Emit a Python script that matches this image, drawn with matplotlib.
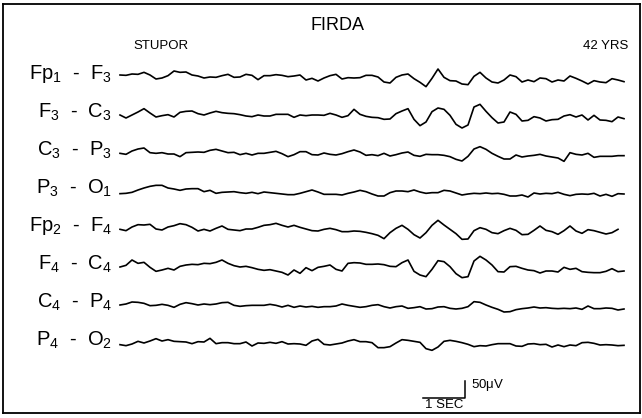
import numpy as np
import matplotlib
matplotlib.use("Agg")
import matplotlib.pyplot as plt

plt.rcParams['font.family'] = ['Liberation Sans', 'DejaVu Sans']
plt.rcParams['mathtext.fontset'] = 'custom'
plt.rcParams['mathtext.rm'] = 'Liberation Sans'
plt.rcParams['mathtext.default'] = 'regular'

# samples every 1/7 s, amplitude in microvolts
fs = 7
channels = [r'Fp$_1$  -  F$_3$', r'F$_3$  -  C$_3$', r'C$_3$  -  P$_3$', r'P$_3$  -  O$_1$',
            r'Fp$_2$  -  F$_4$', r'F$_4$  -  C$_4$', r'C$_4$  -  P$_4$', r'P$_4$  -  O$_2$']

fp1_f3 = [9, 8, 12, 11, 17, 9, -3, 0, 7, 21,
          17, 18, 9, 6, 0, 3, 2, 7, 11, 2,
          3, 11, 8, -5, 7, 7, 10, 8, 4, 6,
          9, -6, -1, -9, 0, 7, 11, -3, 1, 0,
          1, 8, 8, 3, -12, -15, 2, 9, 12, -2,
          -13, -26, -1, 27, 2, -8, -9, -18, -20, 5,
          17, 0, -12, -15, -6, 9, 4, -12, -6, -11,
          0, -2, -12, -6, -9, 6, -1, -9, -18, -8,
          -12, -14, -2, -6, -11]
f3_c3 = [3, -6, 3, 12, 22, 9, -3, 1, 4, -3,
         11, 14, 15, 7, 3, 9, 14, 10, 8, 7,
         4, 0, -2, 3, 0, 0, 5, 5, 5, -4,
         3, 1, 3, 3, 2, 8, 3, -4, 1, 20,
         5, -1, -4, -5, -10, -9, 7, 15, 22, -10,
         -29, -18, 13, 24, 20, 2, -25, -36, -27, 27,
         35, 14, -5, -21, -18, 12, 5, -15, -13, -2,
         -6, -15, -11, -10, 0, 4, -3, 3, -12, 2,
         -12, -13, -17, -3, -8]
c3_p3 = [2, -1, 9, 15, 18, 4, 2, 4, 0, 0,
         -8, 4, 5, 6, 5, 11, 14, 9, 4, 5,
         -2, 2, -3, 2, 2, 5, 8, 1, -8, -2,
         7, 7, -2, -3, 3, -1, -3, 1, 7, 12,
         6, -4, -2, -5, 2, -6, -2, 3, 6, -4,
         -7, -1, -2, -2, -4, -8, -16, -21, -7, 15,
         22, 14, 2, -7, -15, -15, -3, -9, -6, -4,
         -1, -6, -9, -12, -22, 4, -1, -3, 2, -10,
         -7, -7, -7, -5, -5]
p3_o1 = [-5, -4, -1, 6, 12, 17, 20, 20, 12, 9,
         5, 9, 10, 10, 1, 5, -4, -1, 0, 1,
         -2, -4, -1, -5, 0, -2, -4, -6, -8, -8,
         -4, 1, 6, 0, -7, -7, -7, -9, -4, 0,
         5, 1, -6, -12, -12, -2, 3, 3, 1, 6,
         0, -4, -2, -2, 5, 3, -3, -9, -6, -4,
         -5, -3, -5, -4, -7, -12, -12, -9, -15, -3,
         -6, -4, -5, -1, -7, -11, -7, -6, -7, -4,
         -12, -7, -13, -5, -6]
fp2_f4 = [2, -2, 9, 16, 15, 17, 3, 0, 9, 13,
          19, 16, 8, -3, 2, -3, 5, 12, 2, 0,
          -2, 3, 3, 8, 14, 16, 20, 14, 9, 14,
          8, 3, -2, -3, 2, 5, 1, -5, -5, -3,
          -4, -7, -11, -16, -26, -8, 5, 14, 2, -14,
          -24, -8, 14, 29, 15, 2, -11, -28, -27, -2,
          7, 2, -8, -11, -2, 5, -1, -14, -13, -1,
          12, -1, -5, -13, -2, 12, -3, -10, 1, -2,
          -7, -12, -8, 2, np.nan]
f4_c4 = [3, 8, 24, 14, 17, 2, -10, -6, -1, -6,
         5, 9, 11, 10, 14, 13, 17, 24, 14, 7,
         3, 5, 1, -4, -7, -5, -9, -13, -21, -6,
         -16, 1, -8, 2, 5, 9, -4, -9, 14, 16,
         15, 11, 11, 12, 10, 5, 4, 16, 24, -10,
         -21, -26, -4, 22, 19, 4, -17, -29, -26, 21,
         35, 24, 9, -11, -12, 4, 5, -1, -6, -8,
         -15, -9, -9, -12, 2, -4, -1, -11, -13, -14,
         -14, -10, -2, -11, -9]
c4_p4 = [3, 6, 12, 11, 8, 1, 2, 5, 2, -4,
         5, 10, 7, 3, 6, 4, 6, 10, 11, 2,
         -1, 1, 2, 2, 2, 5, 2, -3, 2, -4,
         0, -3, -1, -4, -2, -2, 0, 6, 2, -1,
         -4, -2, 2, 4, -2, -6, -2, 0, -7, -5,
         -2, -9, -8, -3, -2, -7, -9, -7, -2, 13,
         11, 3, -4, -10, -18, -17, -11, -8, -6, -3,
         -6, -5, -7, -8, -7, -8, -6, -10, 0, -8,
         -8, -6, -7, -12, -9]
p4_o2 = [-2, -5, 0, 8, 3, 9, 16, 9, 13, 8,
         7, 6, 1, 7, 6, 17, 1, 4, 4, 1,
         1, 6, -6, 3, 2, 5, 2, 7, 0, 1,
         0, -4, 9, 14, -1, -3, 0, 3, 9, 13,
         7, 7, 4, -11, -11, -8, 3, 13, 11, 8,
         5, -14, -19, -9, 8, 11, 8, 4, -1, -8,
         -5, -6, -2, 1, 1, 1, -6, -7, 0, 1,
         -2, -1, -9, -3, -8, -3, -5, 4, 5, 2,
         -3, -2, -3, -5, -4]

traces = [fp1_f3, f3_c3, c3_p3, p3_o1, fp2_f4, f4_c4, c4_p4, p4_o2]

# layout in display units: 42 px per second, 3 uV per px, 38 px between channels
px_per_sec = 42
uv_per_px = 3
spacing = 38 * uv_per_px
W, H = 642, 418
left_px, right_px, top_px, bot_px = 3, 640, 4, 413
t0_px, base0_px = 120, 78

fig = plt.figure(figsize=(W / 100, H / 100), dpi=100)
ax = fig.add_axes([left_px / W, 1 - bot_px / H, (right_px - left_px) / W, (bot_px - top_px) / H])
ax.set_xlim((left_px - t0_px) / px_per_sec, (right_px - t0_px) / px_per_sec)
ax.set_ylim((base0_px - bot_px) * uv_per_px, (base0_px - top_px) * uv_per_px)
ax.set_xticks([])
ax.set_yticks([])
for s in ax.spines.values():
    s.set_linewidth(1.3)
    s.set_color('black')

t = np.arange(len(fp1_f3)) / fs
for k, (name, vals) in enumerate(zip(channels, traces)):
    off = -k * spacing
    ax.plot(t, np.array(vals, dtype=float) + off, color='black', lw=1.2,
            solid_joinstyle='round')
    ax.text(-8 / px_per_sec, off + 12, name, ha='right', va='center', fontsize=14.5)

# calibration bar: 1 s by 50 uV
bar_t = (423 - t0_px) / px_per_sec
bar_y = (base0_px - 398) * uv_per_px
ax.plot([bar_t, bar_t + 1, bar_t + 1], [bar_y, bar_y, bar_y + 50], color='black', lw=1.1)
ax.text(bar_t + 1.15, bar_y + 38, '50$\\mu$V', ha='left', va='center', fontsize=9.5)
ax.text(bar_t + 0.5, bar_y - 4, '1 SEC', ha='center', va='top', fontsize=9.5)

fig.text(338 / W, 1 - 25 / H, 'FIRDA', ha='center', va='center', fontsize=13)
fig.text(133 / W, 1 - 46 / H, 'STUPOR', ha='left', va='center', fontsize=9.5)
fig.text(628 / W, 1 - 46 / H, '42 YRS', ha='right', va='center', fontsize=9.5)

fig.savefig('out.png', dpi=100)
